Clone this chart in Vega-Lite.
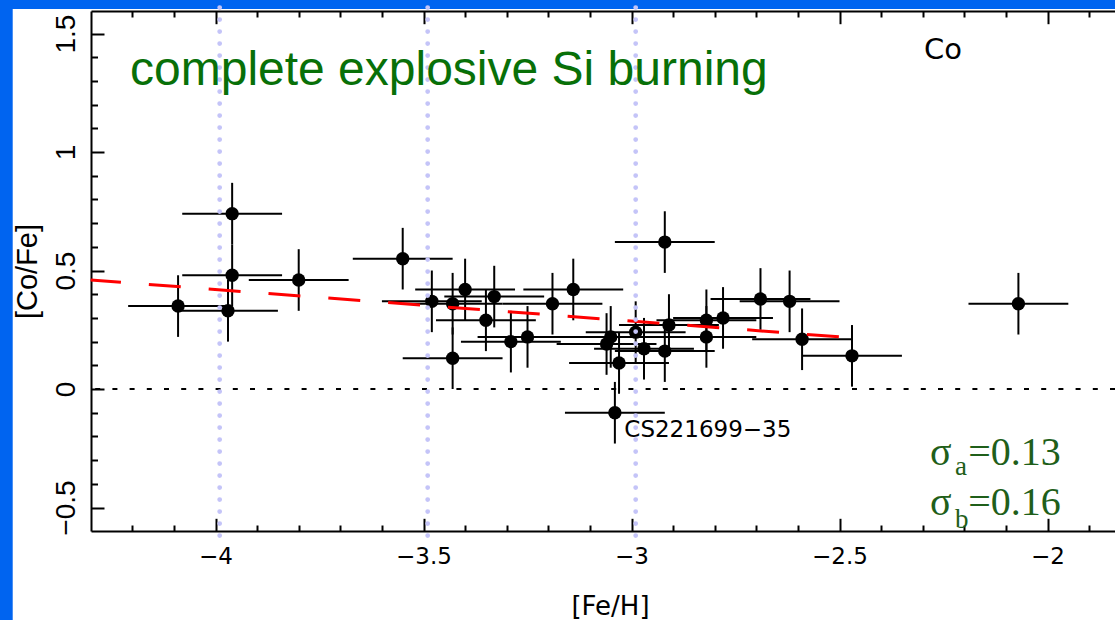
{
  "$schema": "https://vega.github.io/schema/vega-lite/v6.json",
  "width": 1024,
  "height": 520,
  "autosize": {"type": "none"},
  "padding": {"left": 91, "top": 11, "right": 0, "bottom": 89},
  "background": "white",
  "config": {
    "view": {"stroke": null},
    "axis": {"grid": false, "domainColor": "black", "tickColor": "black", "labelColor": "black", "titleColor": "black"}
  },
  "datasets": {
    "stars": [
      {"feh": -4.09, "cofe": 0.35, "xlo": -4.21, "xhi": -3.97, "ylo": 0.22, "yhi": 0.48},
      {"feh": -3.96, "cofe": 0.74, "xlo": -4.08, "xhi": -3.84, "ylo": 0.61, "yhi": 0.87},
      {"feh": -3.96, "cofe": 0.48, "xlo": -4.08, "xhi": -3.84, "ylo": 0.35, "yhi": 0.61},
      {"feh": -3.97, "cofe": 0.33, "xlo": -4.09, "xhi": -3.85, "ylo": 0.20, "yhi": 0.46},
      {"feh": -3.80, "cofe": 0.46, "xlo": -3.92, "xhi": -3.68, "ylo": 0.33, "yhi": 0.59},
      {"feh": -3.55, "cofe": 0.55, "xlo": -3.67, "xhi": -3.43, "ylo": 0.42, "yhi": 0.68},
      {"feh": -3.48, "cofe": 0.37, "xlo": -3.60, "xhi": -3.36, "ylo": 0.24, "yhi": 0.50},
      {"feh": -3.40, "cofe": 0.42, "xlo": -3.52, "xhi": -3.28, "ylo": 0.29, "yhi": 0.55},
      {"feh": -3.43, "cofe": 0.36, "xlo": -3.55, "xhi": -3.31, "ylo": 0.23, "yhi": 0.49},
      {"feh": -3.43, "cofe": 0.13, "xlo": -3.55, "xhi": -3.31, "ylo": 0.00, "yhi": 0.26},
      {"feh": -3.33, "cofe": 0.39, "xlo": -3.45, "xhi": -3.21, "ylo": 0.26, "yhi": 0.52},
      {"feh": -3.35, "cofe": 0.29, "xlo": -3.47, "xhi": -3.23, "ylo": 0.16, "yhi": 0.42},
      {"feh": -3.29, "cofe": 0.20, "xlo": -3.41, "xhi": -3.17, "ylo": 0.07, "yhi": 0.33},
      {"feh": -3.25, "cofe": 0.22, "xlo": -3.37, "xhi": -3.13, "ylo": 0.09, "yhi": 0.35},
      {"feh": -3.19, "cofe": 0.36, "xlo": -3.31, "xhi": -3.07, "ylo": 0.23, "yhi": 0.49},
      {"feh": -3.14, "cofe": 0.42, "xlo": -3.26, "xhi": -3.02, "ylo": 0.29, "yhi": 0.55},
      {"feh": -2.92, "cofe": 0.62, "xlo": -3.04, "xhi": -2.80, "ylo": 0.49, "yhi": 0.75},
      {"feh": -3.05, "cofe": 0.22, "xlo": -3.17, "xhi": -2.93, "ylo": 0.09, "yhi": 0.35},
      {"feh": -3.06, "cofe": 0.19, "xlo": -3.18, "xhi": -2.94, "ylo": 0.06, "yhi": 0.32},
      {"feh": -3.03, "cofe": 0.11, "xlo": -3.15, "xhi": -2.91, "ylo": -0.02, "yhi": 0.24},
      {"feh": -2.99, "cofe": 0.24, "xlo": -3.11, "xhi": -2.87, "ylo": 0.11, "yhi": 0.37},
      {"feh": -2.97, "cofe": 0.17, "xlo": -3.09, "xhi": -2.85, "ylo": 0.04, "yhi": 0.30},
      {"feh": -2.92, "cofe": 0.16, "xlo": -3.04, "xhi": -2.80, "ylo": 0.03, "yhi": 0.29},
      {"feh": -2.91, "cofe": 0.27, "xlo": -3.03, "xhi": -2.79, "ylo": 0.14, "yhi": 0.40},
      {"feh": -2.82, "cofe": 0.29, "xlo": -2.94, "xhi": -2.70, "ylo": 0.16, "yhi": 0.42},
      {"feh": -2.82, "cofe": 0.22, "xlo": -2.94, "xhi": -2.70, "ylo": 0.09, "yhi": 0.35},
      {"feh": -2.78, "cofe": 0.30, "xlo": -2.90, "xhi": -2.66, "ylo": 0.17, "yhi": 0.43},
      {"feh": -2.69, "cofe": 0.38, "xlo": -2.81, "xhi": -2.57, "ylo": 0.25, "yhi": 0.51},
      {"feh": -2.62, "cofe": 0.37, "xlo": -2.74, "xhi": -2.50, "ylo": 0.24, "yhi": 0.50},
      {"feh": -2.59, "cofe": 0.21, "xlo": -2.71, "xhi": -2.47, "ylo": 0.08, "yhi": 0.34},
      {"feh": -2.47, "cofe": 0.14, "xlo": -2.59, "xhi": -2.35, "ylo": 0.01, "yhi": 0.27},
      {"feh": -2.07, "cofe": 0.36, "xlo": -2.19, "xhi": -1.95, "ylo": 0.23, "yhi": 0.49},
      {"feh": -3.04, "cofe": -0.10, "xlo": -3.16, "xhi": -2.92, "ylo": -0.23, "yhi": 0.03}
    ],
    "fit": [
      {"feh": -4.30, "cofe": 0.46},
      {"feh": -2.50, "cofe": 0.22}
    ],
    "guides": [
      {"feh": -3.99},
      {"feh": -3.49},
      {"feh": -2.99}
    ],
    "frame": [
      {"x1": -4.53, "x2": -4.4875, "y1": -1.0, "y2": 1.66},
      {"x1": -4.53, "x2": -1.80, "y1": 1.603, "y2": 1.66}
    ]
  },
  "resolve": {"axis": {"x": "independent", "y": "independent"}},
  "layer": [
    {
      "data": {"name": "frame"},
      "mark": {"type": "rect", "color": "#0064f0", "clip": false},
      "encoding": {
        "x": {"field": "x1", "type": "quantitative", "axis": null, "scale": {"domain": [-4.2993, -1.8378], "nice": false, "zero": false}},
        "x2": {"field": "x2"},
        "y": {"field": "y1", "type": "quantitative", "axis": null, "scale": {"domain": [-0.599, 1.595], "nice": false, "zero": false}},
        "y2": {"field": "y2"}
      }
    },
    {
      "data": {"name": "stars"},
      "mark": {"type": "rule", "color": "black", "strokeWidth": 2},
      "encoding": {
        "x": {"field": "xlo", "type": "quantitative", "scale": {"domain": [-4.2993, -1.8378], "nice": false, "zero": false},
              "axis": {"orient": "bottom", "values": [-4, -3.5, -3, -2.5, -2], "labels": false, "domain": false, "tickSize": -12.7, "tickWidth": 2, "title": null}},
        "x2": {"field": "xhi"},
        "y": {"field": "cofe", "type": "quantitative", "scale": {"domain": [-0.599, 1.595], "nice": false, "zero": false},
              "axis": {"orient": "left", "values": [-0.5, 0, 0.5, 1, 1.5], "labels": false, "domain": false, "tickSize": -13, "tickWidth": 2, "title": null}}
      }
    },
    {
      "data": {"name": "stars"},
      "mark": {"type": "rule", "color": "black", "strokeWidth": 2},
      "encoding": {
        "x": {"field": "feh", "type": "quantitative", "scale": {"domain": [-4.2993, -1.8378], "nice": false, "zero": false},
              "axis": {"orient": "bottom", "values": [-4.2, -4.1, -3.9, -3.8, -3.7, -3.6, -3.4, -3.3, -3.2, -3.1, -2.9, -2.8, -2.7, -2.6, -2.4, -2.3, -2.2, -2.1, -1.9], "labels": false, "domain": false, "tickSize": -6, "tickWidth": 2, "title": null}},
        "y": {"field": "ylo", "type": "quantitative", "scale": {"domain": [-0.599, 1.595], "nice": false, "zero": false},
              "axis": {"orient": "left", "values": [-0.4, -0.3, -0.2, -0.1, 0.1, 0.2, 0.3, 0.4, 0.6, 0.7, 0.8, 0.9, 1.1, 1.2, 1.3, 1.4], "labels": false, "domain": false, "tickSize": -6.5, "tickWidth": 2, "title": null}},
        "y2": {"field": "yhi"}
      }
    },
    {
      "data": {"name": "stars"},
      "mark": {"type": "point", "filled": true, "color": "black", "opacity": 1, "size": 180, "shape": "circle"},
      "encoding": {
        "x": {"field": "feh", "type": "quantitative", "scale": {"domain": [-4.2993, -1.8378], "nice": false, "zero": false},
              "axis": {"orient": "bottom", "values": [-4, -3.5, -3, -2.5, -2], "format": "~g", "ticks": false, "domain": true, "domainWidth": 2,
                       "labelFont": "DejaVu Sans", "labelFontSize": 23, "labelPadding": 14,
                       "title": "[Fe/H]", "titleFont": "DejaVu Sans", "titleFontSize": 26, "titleFontWeight": "normal", "titlePadding": 25, "titleX": 519}},
        "y": {"field": "cofe", "type": "quantitative", "scale": {"domain": [-0.599, 1.595], "nice": false, "zero": false},
              "axis": {"orient": "left", "values": [-0.5, 0, 0.5, 1, 1.5], "format": "~g", "ticks": false, "domain": true, "domainWidth": 2,
                       "labelFont": "Liberation Sans", "labelFontSize": 28, "labelAngle": -90, "labelAlign": "center", "labelBaseline": "bottom", "labelPadding": 11,
                       "title": "[Co/Fe]", "titleFont": "Liberation Sans", "titleFontSize": 29, "titleFontWeight": "normal", "titlePadding": 10}}
      }
    },
    {
      "data": {"values": [{}]},
      "mark": {"type": "rule", "color": "black", "strokeWidth": 2, "strokeDash": [5, 12.2]},
      "encoding": {
        "y": {"datum": 0, "type": "quantitative", "axis": null, "scale": {"domain": [-0.599, 1.595], "nice": false, "zero": false}}
      }
    },
    {
      "data": {"name": "fit"},
      "mark": {"type": "line", "color": "#ff0000", "strokeWidth": 3, "strokeDash": [32, 28], "strokeDashOffset": 1.7},
      "encoding": {
        "x": {"field": "feh", "type": "quantitative", "scale": {"domain": [-4.2993, -1.8378], "nice": false, "zero": false},
              "axis": {"orient": "top", "values": [-4, -3.5, -3, -2.5, -2], "labels": false, "domain": true, "domainWidth": 2, "tickSize": -12.7, "tickWidth": 2, "title": null}},
        "y": {"field": "cofe", "type": "quantitative", "axis": null, "scale": {"domain": [-0.599, 1.595], "nice": false, "zero": false}}
      }
    },
    {
      "data": {"name": "guides"},
      "mark": {"type": "rule", "color": "#c4c4f8", "strokeWidth": 4.8, "strokeDash": [0, 12], "strokeCap": "round", "clip": false},
      "encoding": {
        "x": {"field": "feh", "type": "quantitative", "scale": {"domain": [-4.2993, -1.8378], "nice": false, "zero": false},
              "axis": {"orient": "top", "values": [-4.2, -4.1, -3.9, -3.8, -3.7, -3.6, -3.4, -3.3, -3.2, -3.1, -2.9, -2.8, -2.7, -2.6, -2.4, -2.3, -2.2, -2.1, -1.9], "labels": false, "domain": false, "tickSize": -6, "tickWidth": 2, "title": null}},
        "y": {"datum": 1.66, "type": "quantitative", "axis": null, "scale": {"domain": [-0.599, 1.595], "nice": false, "zero": false}},
        "y2": {"datum": -0.63}
      }
    },
    {
      "data": {"values": [{"feh": -4.2055, "cofe": 1.2827, "label": "complete explosive Si burning"}]},
      "mark": {"type": "text", "align": "left", "baseline": "alphabetic", "font": "Liberation Sans", "fontSize": 48, "color": "#087008"},
      "encoding": {
        "x": {"field": "feh", "type": "quantitative", "axis": null},
        "y": {"field": "cofe", "type": "quantitative", "axis": null},
        "text": {"field": "label"}
      }
    },
    {
      "data": {"values": [{"feh": -2.2969, "cofe": 1.3924, "label": "Co"}]},
      "mark": {"type": "text", "align": "left", "baseline": "alphabetic", "font": "DejaVu Sans", "fontSize": 29, "color": "black"},
      "encoding": {
        "x": {"field": "feh", "type": "quantitative", "axis": null},
        "y": {"field": "cofe", "type": "quantitative", "axis": null},
        "text": {"field": "label"}
      }
    },
    {
      "data": {"values": [{"feh": -3.0173, "cofe": -0.2025, "label": "CS221699−35"}]},
      "mark": {"type": "text", "align": "left", "baseline": "alphabetic", "font": "DejaVu Sans", "fontSize": 23, "color": "black"},
      "encoding": {
        "x": {"field": "feh", "type": "quantitative", "axis": null},
        "y": {"field": "cofe", "type": "quantitative", "axis": null},
        "text": {"field": "label"}
      }
    },
    {
      "data": {"values": [
        {"feh": -2.2825, "cofe": -0.3207, "label": "σ"},
        {"feh": -2.1904, "cofe": -0.3207, "label": "=0.13"},
        {"feh": -2.2825, "cofe": -0.5316, "label": "σ"},
        {"feh": -2.1904, "cofe": -0.5316, "label": "=0.16"}
      ]},
      "mark": {"type": "text", "align": "left", "baseline": "alphabetic", "font": "Liberation Serif", "fontSize": 40, "color": "#1f5f1a"},
      "encoding": {
        "x": {"field": "feh", "type": "quantitative", "axis": null},
        "y": {"field": "cofe", "type": "quantitative", "axis": null},
        "text": {"field": "label"}
      }
    },
    {
      "data": {"values": [
        {"feh": -2.2224, "cofe": -0.3629, "label": "a"},
        {"feh": -2.2224, "cofe": -0.5865, "label": "b"}
      ]},
      "mark": {"type": "text", "align": "left", "baseline": "alphabetic", "font": "Liberation Serif", "fontSize": 27, "color": "#1f5f1a"},
      "encoding": {
        "x": {"field": "feh", "type": "quantitative", "axis": null},
        "y": {"field": "cofe", "type": "quantitative", "axis": null},
        "text": {"field": "label"}
      }
    }
  ]
}
